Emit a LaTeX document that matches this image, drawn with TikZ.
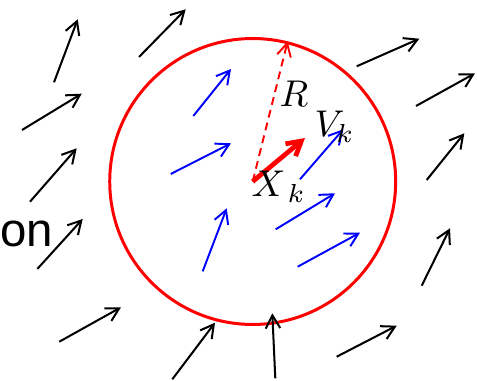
\documentclass[tikz,border=0pt]{standalone}
\usepackage{fontspec}
\newfontfamily\labelsans{Liberation Sans}
\usetikzlibrary{arrows.meta}
\tikzset{
  field/.style   = {-{Straight Barb[length=2.6mm, width=2.9mm]}, draw=black, line width=1.15pt},
  inner/.style   = {-{Straight Barb[length=2.6mm, width=2.9mm]}, draw=blue, line width=1.1pt},
  velo/.style    = {-{Straight Barb[length=2.8mm, width=3.2mm]}, draw=red, line width=2.7pt},
  radius/.style  = {-{Straight Barb[length=2.6mm, width=2.8mm]}, draw=red, line width=1.1pt,
                    dash pattern=on 4.5pt off 3pt},
  ring/.style    = {circle, draw=red, line width=1.7pt, minimum size=5.72cm, inner sep=0pt},
  mathlbl/.style = {font=\normalsize, scale=2.12, inner sep=0pt, anchor=base west}
}
\begin{document}
\begin{tikzpicture}[x=0.02cm, y=-0.02cm]
  \useasboundingbox (0,0) rectangle (477,381);
  % neighbourhood of the particle
  \node[ring] (ball) at (252.7,181.5) {};
  % surrounding field
  \foreach \a/\b/\c/\d in {54/82.3/77.7/19.3, 139/57/185.7/9.3, 22/130/81.7/93.7,
      30/201.7/76.7/148.3, 37.3/269/82.7/219, 59.3/341.7/121/307.3,
      172.3/379.3/215/322.7, 275.3/378.3/272.3/313.3, 336.7/356.7/396.7/325.7,
      421.7/285.7/450/228.3, 426.7/180/464.3/133.3, 416/106/475/73.3,
      356.7/66.3/419.3/38.7}
    \draw[field] (\a,\b) -- (\c,\d);
  % particles inside the ball
  \foreach \a/\b/\c/\d in {193.3/116/231/69, 170.7/174/231/143.3,
      202.7/271.3/226.7/208.3, 300/179.3/343.3/129.3,
      275.7/229.3/335/193.3, 297.7/266.7/360/232.7}
    \draw[inner] (\a,\b) -- (\c,\d);
  \coordinate (vtip) at (305,138);
  \draw[radius] (ball.center) -- (ball.76.7);
  \draw[velo] (ball.center) -- (vtip);
  \node[mathlbl] (rlbl) at (279,107) {$R$};
  \node[mathlbl] (vlbl) at (314,137) {$V_k$};
  \node[mathlbl] (xlbl) at (251,197) {$X_{\,k}$};
  \node[font=\labelsans\fontsize{27}{30}\selectfont, inner sep=0pt, anchor=base west] (on) at (0,247) {on};
\end{tikzpicture}
\end{document}
